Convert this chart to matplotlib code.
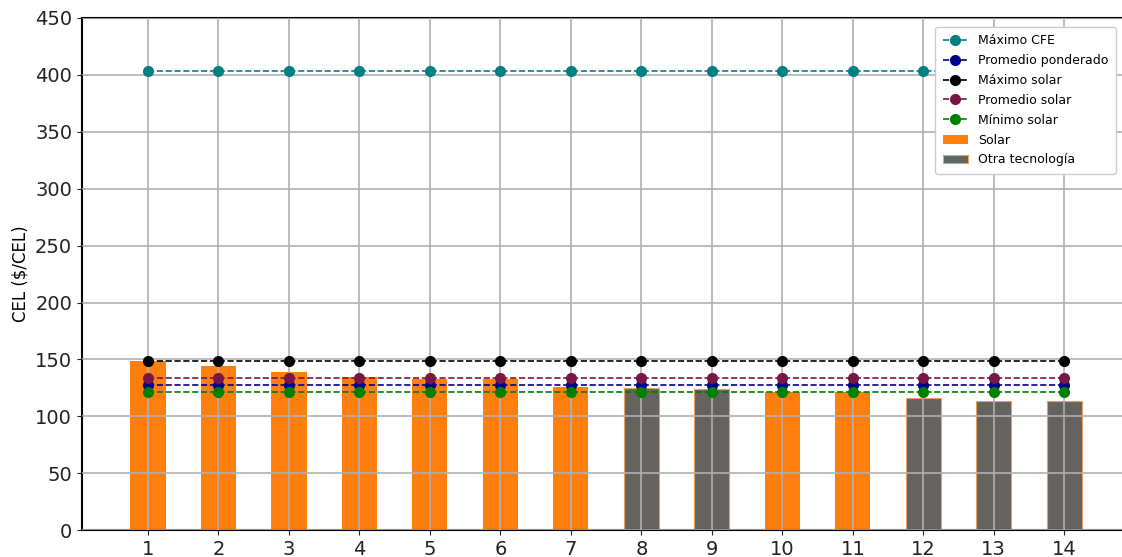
import numpy as np
import matplotlib.pyplot as plt

# data
proyectos = np.arange(1, 15)
cel = [149, 144, 139, 134.5, 133, 133, 126, 125, 124, 121, 121, 116, 113.5, 113.5]
tecnologia = ['Solar'] * 7 + ['Otra', 'Otra', 'Solar', 'Solar', 'Otra', 'Otra', 'Otra']

maximo_cfe = 403
promedio_ponderado = 127.5
maximo_solar = 149
promedio_solar = 133.5
minimo_solar = 121.5

fig = plt.figure(figsize=(11.22, 5.57), dpi=100)
ax = fig.add_axes([0.073, 0.048, 0.927, 0.92])

solar_x = [p for p, t in zip(proyectos, tecnologia) if t == 'Solar']
solar_y = [c for c, t in zip(cel, tecnologia) if t == 'Solar']
otra_x = [p for p, t in zip(proyectos, tecnologia) if t != 'Solar']
otra_y = [c for c, t in zip(cel, tecnologia) if t != 'Solar']

n = len(proyectos)
ax.plot(proyectos, [maximo_cfe] * n, '--o', color='teal', ms=7, lw=1.2, label='Máximo CFE', zorder=3)
ax.plot(proyectos, [promedio_ponderado] * n, '--o', color='darkblue', ms=7, lw=1.2, label='Promedio ponderado', zorder=3)
ax.plot(proyectos, [maximo_solar] * n, '--o', color='black', ms=7, lw=1.2, label='Máximo solar', zorder=3)
ax.plot(proyectos, [promedio_solar] * n, '--o', color='#7a1646', ms=7, lw=1.2, label='Promedio solar', zorder=3)
ax.plot(proyectos, [minimo_solar] * n, '--o', color='green', ms=7, lw=1.2, label='Mínimo solar', zorder=3)

ax.bar(solar_x, solar_y, width=0.5, color='#ff7f0e', label='Solar', zorder=1)
ax.bar(otra_x, otra_y, width=0.5, color='#66625f', edgecolor='#e8a060', linewidth=0.8,
       label='Otra tecnología', zorder=1)

ax.grid(True, color='#b0b0b0', linewidth=1.2, zorder=2)
ax.set_axisbelow(False)

ax.set_xlim(0.063, 14.82)
ax.set_ylim(0, 450)
ax.set_xticks(proyectos)
ax.set_yticks(np.arange(0, 451, 50))
ax.tick_params(labelsize=14, colors='#222222')
ax.set_ylabel('CEL ($/CEL)', fontsize=12)
ax.spines['right'].set_visible(False)
for s in ['left', 'bottom', 'top']:
    ax.spines[s].set_linewidth(1.5)

leg = ax.legend(loc='upper right', fontsize=9, framealpha=1, borderpad=0.6,
                labelspacing=0.55, bbox_to_anchor=(1.0, 0.995))
leg.set_zorder(5)

plt.savefig('out.png', dpi=100)
